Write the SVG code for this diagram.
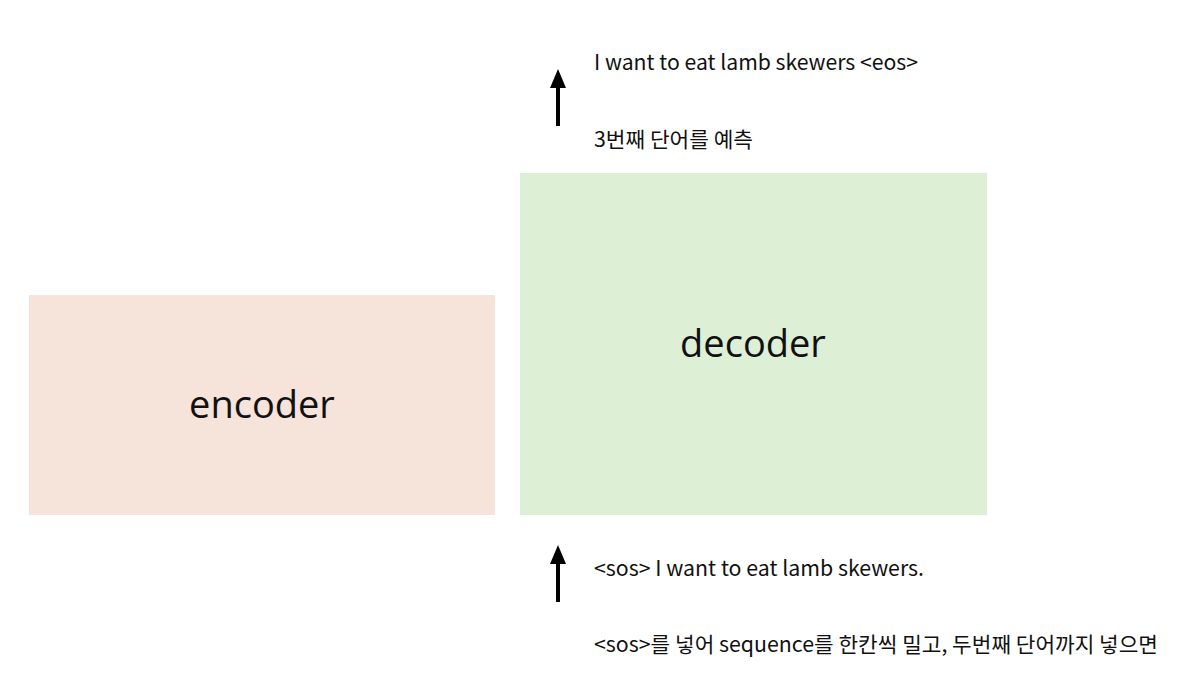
<svg xmlns="http://www.w3.org/2000/svg" width="1180" height="676" viewBox="0 0 1180 676">
<style>
.t{font-family:"Noto Sans CJK KR","Noto Sans",sans-serif;font-size:21px;fill:#111}
.big{font-family:"Open Sans","Noto Sans",sans-serif;font-size:38px;fill:#111;text-anchor:middle}
</style>
<rect width="1180" height="676" fill="#fff"/>
<g id="encoder">
<rect x="29" y="295" width="466" height="220" fill="#f6e3d9"/>
<text class="big" x="262" y="418">encoder</text>
</g>
<g id="decoder">
<rect x="520" y="173" width="467" height="342" fill="#ddf0d6"/>
<text class="big" x="753" y="357">decoder</text>
</g>
<g id="connectors">
<line x1="558" y1="126" x2="558" y2="86" stroke="#000" stroke-width="4"/>
<path d="M550,88 L558,69 L566,88 Z" fill="#000"/>
<line x1="558" y1="602" x2="558" y2="562" stroke="#000" stroke-width="4"/>
<path d="M550,564 L558,545 L566,564 Z" fill="#000"/>
</g>
<g id="labels">
<text class="t" x="594" y="70" textLength="324" lengthAdjust="spacingAndGlyphs">I want to eat lamb skewers &lt;eos&gt;</text>
<text class="t" x="594" y="147" textLength="159" lengthAdjust="spacingAndGlyphs">3번째 단어를 예측</text>
<text class="t" x="594" y="576" textLength="330" lengthAdjust="spacingAndGlyphs">&lt;sos&gt; I want to eat lamb skewers.</text>
<text class="t" x="594" y="652" textLength="564" lengthAdjust="spacingAndGlyphs">&lt;sos&gt;를 넣어 sequence를 한칸씩 밀고, 두번째 단어까지 넣으면</text>
</g>
</svg>
